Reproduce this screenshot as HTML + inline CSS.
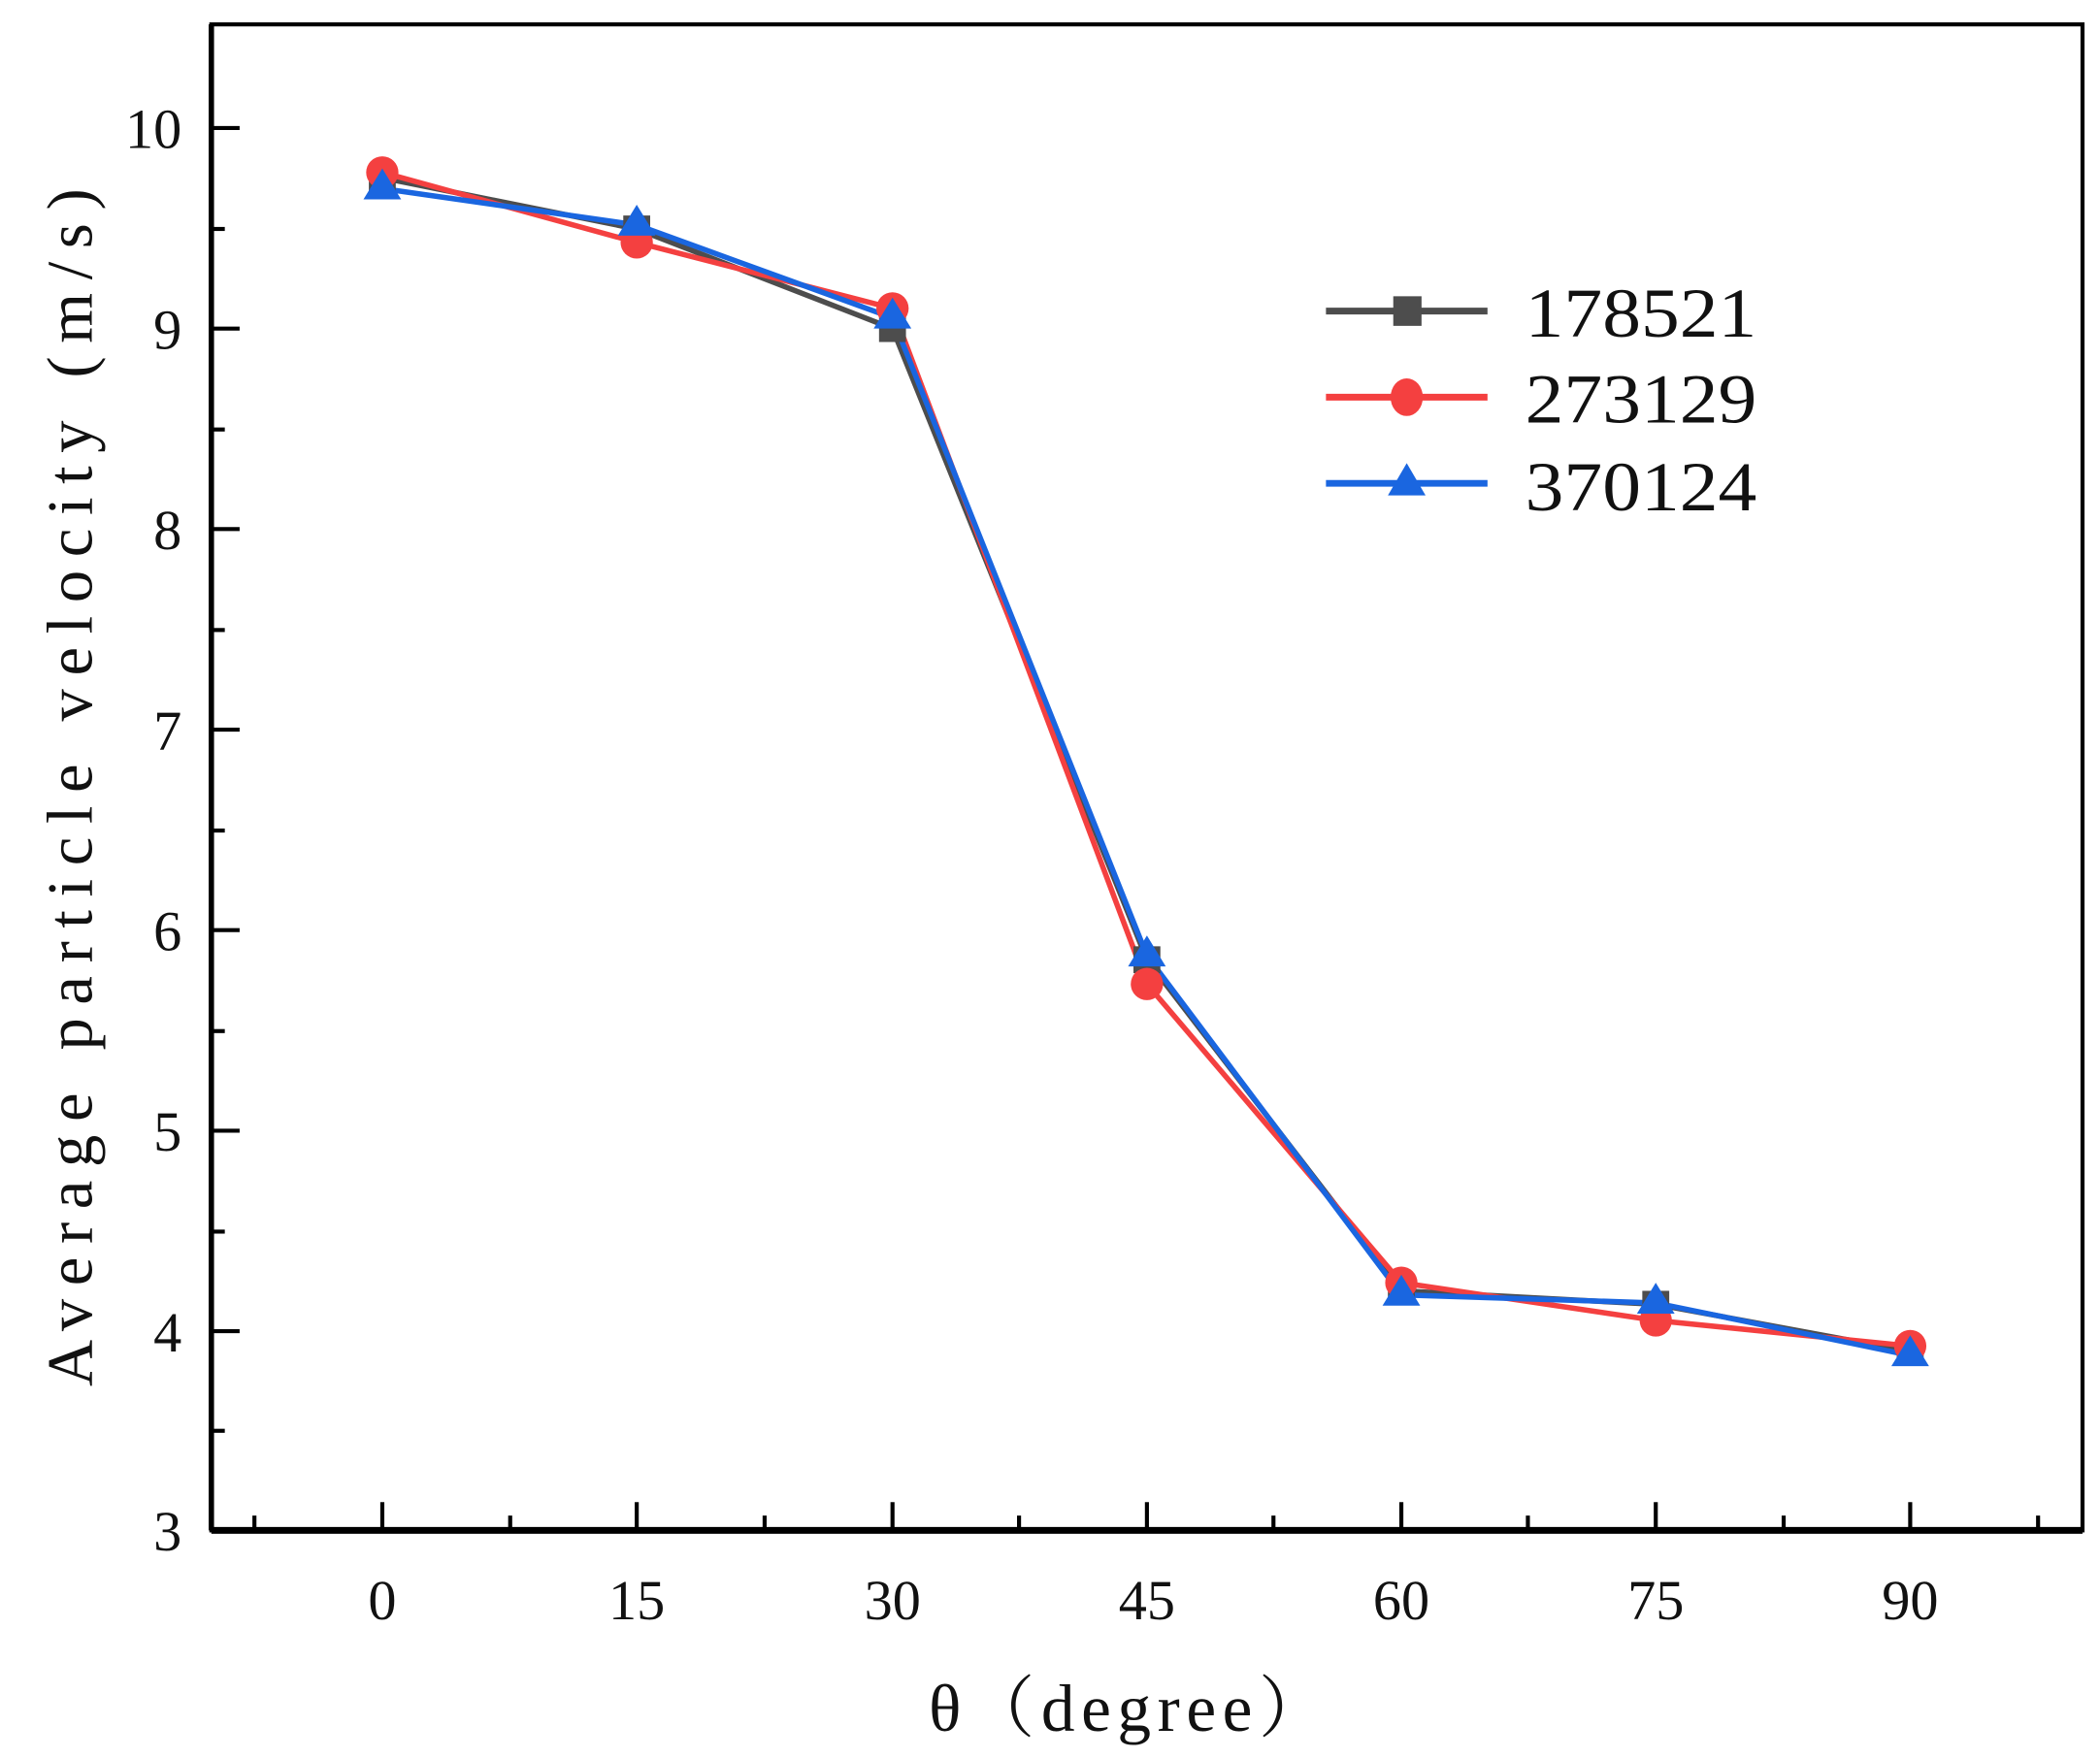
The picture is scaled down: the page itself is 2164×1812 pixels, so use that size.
<!DOCTYPE html>
<html><head><meta charset="utf-8"><style>html,body{margin:0;padding:0;background:#fff}svg{display:block}</style></head>
<body>
<svg width="2164" height="1812" viewBox="0 0 1560 1306" xmlns="http://www.w3.org/2000/svg" font-family="'Liberation Serif','Noto Serif CJK SC',serif">
<rect width="1560" height="1306" fill="#fff"/>
<rect x="157" y="18" width="1390" height="1119" fill="none" stroke="#000" stroke-width="3"/>
<line x1="157" y1="1137" x2="1547" y2="1137" stroke="#000" stroke-width="5"/>
<line x1="157" y1="18" x2="157" y2="1137" stroke="#000" stroke-width="4"/>
<g stroke="#000" stroke-width="3">
<line x1="284" y1="1137" x2="284" y2="1116"/><line x1="473" y1="1137" x2="473" y2="1116"/><line x1="663" y1="1137" x2="663" y2="1116"/><line x1="852" y1="1137" x2="852" y2="1116"/><line x1="1041" y1="1137" x2="1041" y2="1116"/><line x1="1230" y1="1137" x2="1230" y2="1116"/><line x1="1419" y1="1137" x2="1419" y2="1116"/>
<line x1="189" y1="1137" x2="189" y2="1126"/><line x1="379" y1="1137" x2="379" y2="1126"/><line x1="568" y1="1137" x2="568" y2="1126"/><line x1="757" y1="1137" x2="757" y2="1126"/><line x1="946" y1="1137" x2="946" y2="1126"/><line x1="1135" y1="1137" x2="1135" y2="1126"/><line x1="1325" y1="1137" x2="1325" y2="1126"/><line x1="1514" y1="1137" x2="1514" y2="1126"/>
<line x1="157" y1="95" x2="178" y2="95"/><line x1="157" y1="244" x2="178" y2="244"/><line x1="157" y1="393" x2="178" y2="393"/><line x1="157" y1="542" x2="178" y2="542"/><line x1="157" y1="691" x2="178" y2="691"/><line x1="157" y1="840" x2="178" y2="840"/><line x1="157" y1="989" x2="178" y2="989"/>
<line x1="157" y1="170" x2="167" y2="170"/><line x1="157" y1="319" x2="167" y2="319"/><line x1="157" y1="468" x2="167" y2="468"/><line x1="157" y1="617" x2="167" y2="617"/><line x1="157" y1="766" x2="167" y2="766"/><line x1="157" y1="915" x2="167" y2="915"/><line x1="157" y1="1063" x2="167" y2="1063"/>
</g>
<g font-size="42" text-anchor="end" fill="#111">
<text x="135" y="110">10</text><text x="135" y="259">9</text><text x="135" y="408">8</text><text x="135" y="557">7</text><text x="135" y="706">6</text><text x="135" y="855">5</text><text x="135" y="1004">4</text><text x="135" y="1152">3</text>
</g>
<g font-size="42" text-anchor="middle" fill="#111">
<text x="284" y="1203">0</text><text x="473" y="1203">15</text><text x="663" y="1203">30</text><text x="852" y="1203">45</text><text x="1041" y="1203">60</text><text x="1230" y="1203">75</text><text x="1419" y="1203">90</text>
</g>
<text x="690" y="1286" font-size="50" fill="#111" textLength="295" lengthAdjust="spacing">θ（degree）</text>
<text transform="translate(68,585) rotate(-90)" font-size="48" text-anchor="middle" fill="#111" textLength="890" lengthAdjust="spacing">Average particle velocity (m/s)</text>
<polyline fill="none" stroke="#4d4d4d" stroke-width="4" points="284,132 473,170 663,244 852,713 1041,959 1230,969 1419,1004"/>
<polyline fill="none" stroke="#f44040" stroke-width="4" points="284,128 473,180 663,229 852,731 1041,953 1230,981 1419,1000"/>
<polyline fill="none" stroke="#1a66e0" stroke-width="4" points="284,140 473,167 663,236 852,710 1041,962 1230,968 1419,1007"/>
<g fill="#4d4d4d">
<rect x="274" y="122" width="20" height="20"/><rect x="463" y="160" width="20" height="20"/><rect x="653" y="234" width="20" height="20"/><rect x="842" y="703" width="20" height="20"/><rect x="1031" y="949" width="20" height="20"/><rect x="1220" y="959" width="20" height="20"/><rect x="1409" y="994" width="20" height="20"/>
</g>
<g fill="#f44040">
<circle cx="284" cy="128" r="12"/><circle cx="473" cy="180" r="12"/><circle cx="663" cy="229" r="12"/><circle cx="852" cy="731" r="12"/><circle cx="1041" cy="953" r="12"/><circle cx="1230" cy="981" r="12"/><circle cx="1419" cy="1000" r="12"/>
</g>
<g fill="#1a66e0">
<polygon points="284,125 270,148 298,148"/><polygon points="473,152 459,175 487,175"/><polygon points="663,221 649,244 677,244"/><polygon points="852,695 838,718 866,718"/><polygon points="1041,947 1027,970 1055,970"/><polygon points="1230,953 1216,976 1244,976"/><polygon points="1419,992 1405,1015 1433,1015"/>
</g>
<line x1="985" y1="231" x2="1105" y2="231" stroke="#4d4d4d" stroke-width="5"/>
<rect x="1035" y="220" width="21" height="22" fill="#4d4d4d"/>
<line x1="985" y1="295" x2="1105" y2="295" stroke="#f44040" stroke-width="5"/>
<ellipse cx="1045" cy="295" rx="12" ry="14" fill="#f44040"/>
<line x1="985" y1="359" x2="1105" y2="359" stroke="#1a66e0" stroke-width="5"/>
<polygon points="1045,344 1031,368 1059,368" fill="#1a66e0"/>
<g font-size="52" fill="#111">
<text x="1133" y="250" textLength="172" lengthAdjust="spacingAndGlyphs">178521</text><text x="1133" y="314" textLength="172" lengthAdjust="spacingAndGlyphs">273129</text><text x="1133" y="379" textLength="172" lengthAdjust="spacingAndGlyphs">370124</text>
</g>
</svg>
</body></html>
